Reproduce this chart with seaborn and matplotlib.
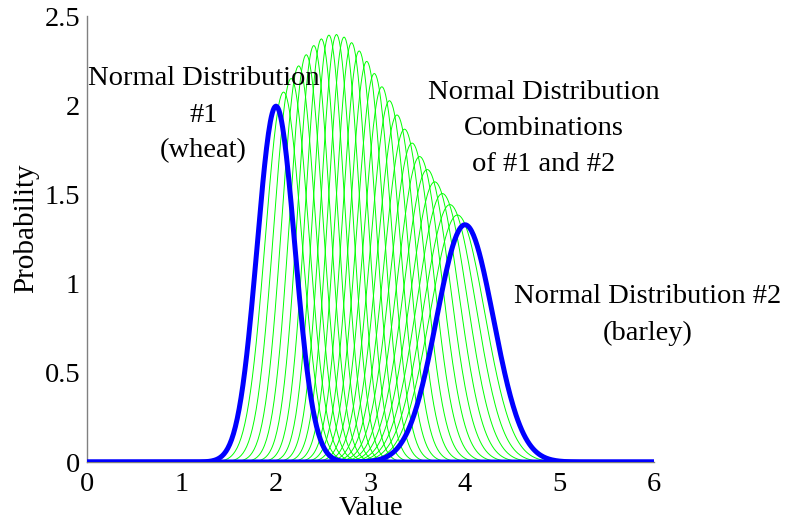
import numpy as np
import pandas as pd
import matplotlib
matplotlib.use("Agg")
import matplotlib.pyplot as plt
import seaborn as sns

# Two base normal distributions
mean_wheat, sd_wheat = 2.0, 0.2
mean_barley, sd_barley = 4.0, 0.3

# Mixing weights of wheat in the weighted combinations
weights = [0.00, 0.04, 0.08, 0.12, 0.16, 0.20, 0.24, 0.28, 0.32, 0.36,
           0.40, 0.44, 0.48, 0.52, 0.56, 0.60, 0.64, 0.68, 0.72, 0.76,
           0.80, 0.84, 0.88, 0.92, 0.96, 1.00]

x_ticks = [0, 1, 2, 3, 4, 5, 6]
y_ticks = [0, 0.5, 1, 1.5, 2, 2.5]
y_tick_labels = ["0", "0.5", "1", "1.5", "2", "2.5"]

values = np.arange(0.0, 6.0001, 0.01)


def normal_pdf(x, mu, sd):
    return np.exp(-0.5 * ((x - mu) / sd) ** 2) / (sd * np.sqrt(2 * np.pi))


# Weighted sum w*A + (1-w)*B of independent normals
frames = []
for w in weights:
    mu = w * mean_wheat + (1 - w) * mean_barley
    sd = np.sqrt((w * sd_wheat) ** 2 + ((1 - w) * sd_barley) ** 2)
    frames.append(pd.DataFrame({"Value": values,
                                "Probability": normal_pdf(values, mu, sd),
                                "w": w}))
combos = pd.concat(frames, ignore_index=True)

base = pd.concat([
    pd.DataFrame({"Value": values,
                  "Probability": normal_pdf(values, mean_wheat, sd_wheat),
                  "name": "wheat"}),
    pd.DataFrame({"Value": values,
                  "Probability": normal_pdf(values, mean_barley, sd_barley),
                  "name": "barley"}),
], ignore_index=True)

sns.set_style("white")
plt.rcParams["font.family"] = ["Liberation Serif", "DejaVu Serif"]
plt.rcParams["axes.labelcolor"] = "black"
plt.rcParams["text.color"] = "black"

fig = plt.figure(figsize=(7.91, 5.22), dpi=100)
ax = fig.add_axes([0.110, 0.1149, 0.7168, 0.8544])

sns.lineplot(data=combos, x="Value", y="Probability", units="w",
             estimator=None, color="#00ff00", linewidth=0.7, ax=ax,
             legend=False)
sns.lineplot(data=base, x="Value", y="Probability", units="name",
             estimator=None, color="#0000ff", linewidth=3.6, ax=ax,
             legend=False, zorder=5)

ax.set_xlim(0, 6)
ax.set_ylim(0, 2.5)
ax.set_xticks(x_ticks)
ax.set_xticklabels([str(t) for t in x_ticks])
ax.set_yticks(y_ticks)
ax.set_yticklabels(y_tick_labels)

for side in ("top", "right"):
    ax.spines[side].set_visible(False)
for side in ("left", "bottom"):
    ax.spines[side].set_color("#808080")
    ax.spines[side].set_linewidth(1.0)

ax.tick_params(direction="in", length=5, width=1.0, color="#808080",
               labelsize=20.5, labelcolor="black")
ax.tick_params(axis="x", pad=7)
ax.tick_params(axis="y", pad=5)

ax.set_xlabel("Value", fontsize=20.5, color="black")
ax.set_ylabel("Probability", fontsize=21, color="black")
ax.xaxis.set_label_coords(0.5, -0.077)
ax.yaxis.set_label_coords(-0.085, 0.525)

txt = dict(fontsize=20.5, ha="center", va="center", linespacing=1.58,
           color="black", zorder=10)
ax.text(1.233, 1.945, "Normal Distribution\n#1\n(wheat)", **txt)
ax.text(4.83, 1.867, "Normal Distribution\nCombinations\nof #1 and #2",
        clip_on=False, **txt)
ax.text(5.93, 0.824, "Normal Distribution #2\n(barley)", clip_on=False, **txt)

fig.savefig("out.png", dpi=100)
